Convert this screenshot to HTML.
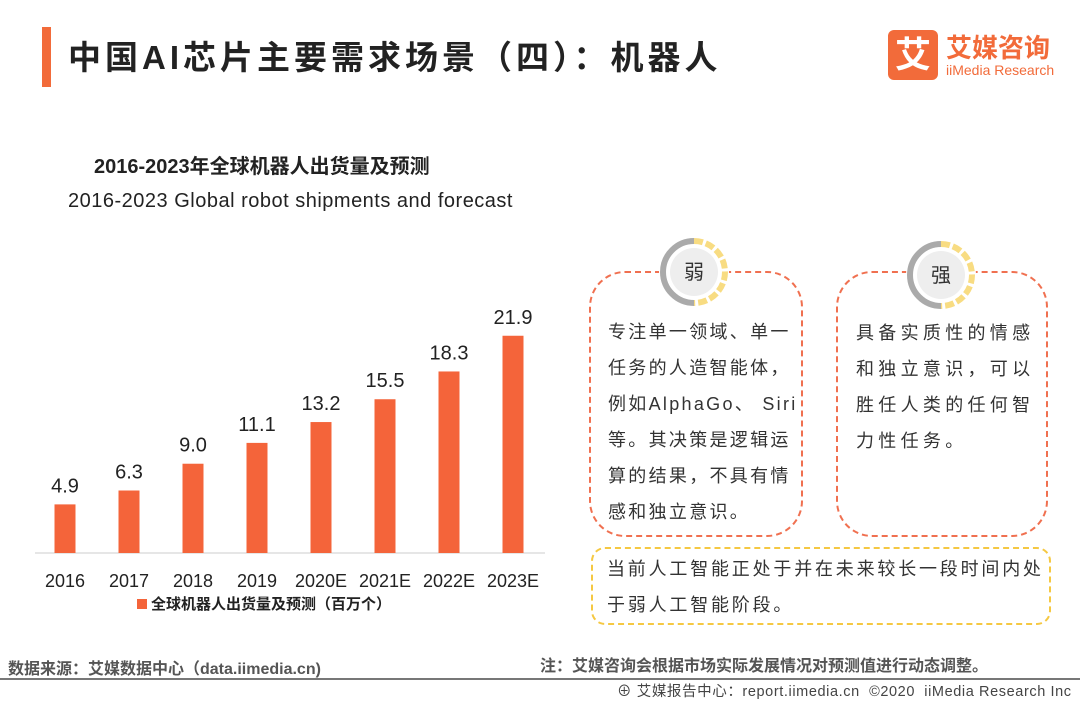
<!DOCTYPE html>
<html><head><meta charset="utf-8">
<style>
body{margin:0;width:1080px;height:702px;background:#fff;position:relative;overflow:hidden;font-family:"Liberation Sans","Noto Sans CJK SC",sans-serif;color:#222}
.abs{position:absolute}
.box{position:absolute;border:2px dashed #f07050;border-radius:36px}
.txt{position:absolute;font-size:18px;line-height:36px;color:#333;white-space:nowrap}
.badge{position:absolute;width:70px;height:70px}
</style></head><body>
<div class="abs" style="left:42px;top:27px;width:9px;height:60px;background:#f26b3a"></div>
<div class="abs" style="left:68px;top:31px;font-size:33px;font-weight:bold;color:#222;letter-spacing:4px;white-space:nowrap">中国AI芯片主要需求场景（四）：机器人</div>
<div class="abs" style="left:888px;top:30px;width:50px;height:50px;background:#f26b3a;border-radius:6px;color:#fff;font-size:36px;font-weight:bold;text-align:center;line-height:50px">艾</div>
<div class="abs" style="left:946px;top:28px;font-size:26px;font-weight:bold;color:#f26b3a">艾媒咨询</div>
<div class="abs" style="left:946px;top:62px;font-size:14px;color:#f26b3a">iiMedia Research</div>

<div class="abs" style="left:94px;top:150px;font-size:20px;font-weight:bold">2016-2023年全球机器人出货量及预测</div>
<div class="abs" style="left:68px;top:190px;font-size:20px;color:#222;letter-spacing:0.5px;white-space:nowrap">2016-2023 Global robot shipments and forecast</div>

<svg class="abs" style="left:0;top:0" width="560" height="630">
<g id="g"></g>
</svg>
<script>
const categories=["2016","2017","2018","2019","2020E","2021E","2022E","2023E"];
const values=[4.9,6.3,9.0,11.1,13.2,15.5,18.3,21.9];
const labels=["4.9","6.3","9.0","11.1","13.2","15.5","18.3","21.9"];
const g=document.getElementById('g');
const ns="http://www.w3.org/2000/svg";
const base=553,scale=9.92,x0=65,step=64,bw=21;
const xPos=i=>x0+i*step;
const yPos=v=>base-v*scale;
function mk(t,a){const e=document.createElementNS(ns,t);for(const k in a)e.setAttribute(k,a[k]);g.appendChild(e);return e;}
const ax=mk('line',{x1:35,x2:545,y1:base,y2:base,stroke:'#ccc','stroke-width':1});


values.forEach((v,i)=>{
 const r=mk('rect',{x:xPos(i)-bw/2,y:yPos(v),width:bw,height:base-yPos(v),fill:'#f4643a'});
 
 
 const t=mk('text',{x:xPos(i),y:yPos(v)-12,'text-anchor':'middle','font-size':20,fill:'#222'});
 t.textContent=labels[i];
 
 
 const c=mk('text',{x:xPos(i),y:base+34,'text-anchor':'middle','font-size':18,fill:'#222'});
 c.textContent=categories[i];
 
 
});
</script>
<div class="abs" style="left:137px;top:599px;width:10px;height:10px;background:#f4643a"></div>
<div class="abs" style="left:151px;top:593px;font-size:15px;font-weight:bold">全球机器人出货量及预测（百万个）</div>

<div class="box" style="left:589px;top:271px;width:210px;height:262px"></div>
<svg class="badge" style="left:659px;top:237px;background:#fff;border-radius:50%" viewBox="0 0 70 70">
<path d="M35 4 A31 31 0 0 0 35 66" fill="none" stroke="#aaa" stroke-width="6"/>
<path d="M35 4 A31 31 0 0 1 35 66" fill="none" stroke="#f8dc82" stroke-width="6" stroke-dasharray="9 3"/>
<circle cx="35" cy="35" r="24" fill="#eee"/>
<text x="35" y="42" text-anchor="middle" font-size="20" fill="#333">弱</text></svg>
<div class="txt" style="left:608px;top:314px;letter-spacing:2.3px">专注单一领域、单一<br>任务的人造智能体，<br>例如AlphaGo、 Siri<br>等。其决策是逻辑运<br>算的结果，不具有情<br>感和独立意识。</div>

<div class="box" style="left:836px;top:271px;width:208px;height:262px"></div>
<svg class="badge" style="left:906px;top:240px;background:#fff;border-radius:50%" viewBox="0 0 70 70">
<path d="M35 4 A31 31 0 0 0 35 66" fill="none" stroke="#aaa" stroke-width="6"/>
<path d="M35 4 A31 31 0 0 1 35 66" fill="none" stroke="#f8dc82" stroke-width="6" stroke-dasharray="9 3"/>
<circle cx="35" cy="35" r="24" fill="#eee"/>
<text x="35" y="42" text-anchor="middle" font-size="20" fill="#333">强</text></svg>
<div class="txt" style="left:856px;top:315px;letter-spacing:4.3px">具备实质性的情感<br>和独立意识，可以<br>胜任人类的任何智<br>力性任务。</div>

<div class="abs" style="left:591px;top:547px;width:456px;height:74px;border:2px dashed #f5c842;border-radius:14px"></div>
<div class="txt" style="left:607px;top:551px;letter-spacing:2.8px">当前人工智能正处于并在未来较长一段时间内处<br>于弱人工智能阶段。</div>

<div class="abs" style="left:8px;top:655px;font-size:16px;color:#555;font-weight:bold">数据来源：艾媒数据中心（data.iimedia.cn)</div>
<div class="abs" style="left:540px;top:652px;font-size:16px;color:#555;font-weight:bold">注：艾媒咨询会根据市场实际发展情况对预测值进行动态调整。</div>
<div class="abs" style="left:0;top:678px;width:1080px;height:2px;background:#777"></div>
<div class="abs" style="left:617px;top:680px;font-size:14.5px;color:#444;letter-spacing:0.6px;white-space:nowrap">⊕ 艾媒报告中心：report.iimedia.cn &nbsp;©2020 &nbsp;iiMedia Research Inc</div>
</body></html>
